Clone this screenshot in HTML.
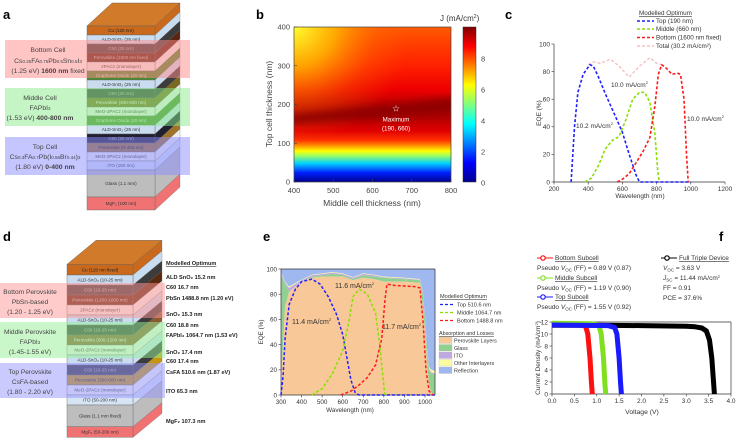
<!DOCTYPE html>
<html><head><meta charset="utf-8"><style>
html,body{margin:0;padding:0;background:#fff}
svg{display:block;font-family:"Liberation Sans",sans-serif}
</style></head><body>
<svg id="fig" width="738" height="439" viewBox="0 0 738 439" xmlns="http://www.w3.org/2000/svg">
<defs>
<linearGradient id="heatV" x1="0" y1="1" x2="0" y2="0">
<stop offset="0" stop-color="#00008f"/><stop offset="0.06" stop-color="#0020ff"/><stop offset="0.12" stop-color="#00d0ff"/>
<stop offset="0.17" stop-color="#a0ff60"/><stop offset="0.2" stop-color="#ffff00"/><stop offset="0.23" stop-color="#ffa000"/>
<stop offset="0.27" stop-color="#ff3000"/><stop offset="0.33" stop-color="#e00000"/><stop offset="0.42" stop-color="#b00000"/>
<stop offset="0.5" stop-color="#c00000"/><stop offset="0.6" stop-color="#ee0000"/><stop offset="0.75" stop-color="#ff2000"/>
<stop offset="0.9" stop-color="#ff4000"/><stop offset="1" stop-color="#ff5a00"/>
</linearGradient>
<radialGradient id="heatTL" cx="0" cy="0" r="0.75">
<stop offset="0" stop-color="#ffff30" stop-opacity="1"/><stop offset="0.35" stop-color="#ffc000" stop-opacity="0.8"/><stop offset="0.7" stop-color="#ff8000" stop-opacity="0.3"/><stop offset="1" stop-color="#ff6000" stop-opacity="0"/>
</radialGradient>
<linearGradient id="jet" x1="0" y1="1" x2="0" y2="0">
<stop offset="0" stop-color="#00008f"/><stop offset="0.125" stop-color="#0000ff"/><stop offset="0.375" stop-color="#00ffff"/>
<stop offset="0.625" stop-color="#ffff00"/><stop offset="0.875" stop-color="#ff0000"/><stop offset="1" stop-color="#800000"/>
</linearGradient>
<filter id="blur"><feGaussianBlur stdDeviation="4"/></filter>
<clipPath id="clipB"><rect x="294" y="27" width="157" height="155"/></clipPath>
</defs>
<g id="g"></g>
</svg>
<script>
// ===== Panel c data =====
const cTopX=[300,320,340,370,410,430,460,500,550,600,640,680,700,1000];
const cTopY=[0,40,65,78,85,84,76,64,50,36,20,5,0,0];
const cMidX=[380,420,460,500,540,580,620,660,700,730,760,790,805,815];
const cMidY=[0,3,12,24,30,33,45,60,65,65,58,35,10,0];
const cBotX=[570,600,640,680,720,760,790,810,830,860,890,920,940,960,975,985];
const cBotY=[0,2,6,14,22,32,55,78,85,82,78,79,78,60,20,0];
const cTotX=[400,430,470,530,580,640,700,760,800,830];
const cTotY=[85,87,86,89,84,76,84,90,86,85];
const cXTicks=[200,400,600,800,1000,1200];
const cYTicks=[0,20,40,60,80,100];
// ===== Panel e data =====
const eTopX=[300,310,320,340,370,400,450,490,530,570,600,620,640,660,680,1050];
const eTopY=[0,15,45,72,84,90,92,88,78,64,48,30,12,2,0,0];
const eMidX=[450,500,550,600,630,650,680,720,760,780,795,805];
const eMidY=[0,5,17,35,58,78,84,80,65,40,15,0];
const eBotX=[590,640,680,720,760,790,805,815,850,950,975,990,1005,1020,1040];
const eBotY=[0,3,8,14,24,45,75,88,87,86,85,60,20,3,0];
const eAreaX=[300,310,320,340,400,450,500,550,600,650,700,750,800,900,975,990,1000,1010,1020,1030,1050];
const ePerov=[5,40,70,82,90,93,94,94,94,91,93,92,90,90,89,70,50,25,8,2,0];
const eGlass=[95,92,88,82,90,94,95,96,95,92,95,94,93,92,91,80,60,35,20,17,16];
const eITO=[96,93,89,85,91,95,96,97,96,93,96,95,93.5,92.5,91.5,81,61,36,21,18,17];
const eOther=[96.5,93.5,89.5,86,91.5,95.5,96.5,97.5,96.5,93.5,96.5,95.5,94,93,92,81.5,61.5,36.5,22,20,19];
const eXTicks=[300,400,500,600,700,800,900,1000];
const eYTicks=[0,20,40,60,80,100];
// ===== Panel f data =====
const fBotV=[0,0.6,0.75,0.8,0.85,0.88,0.9];
const fBotJ=[11.7,11.6,11.3,10,6,2,0];
const fMidV=[0,0.9,1.05,1.1,1.15,1.18,1.2];
const fMidJ=[11.8,11.7,11.4,10,6,2,0];
const fTopV=[0,1.25,1.4,1.45,1.5,1.53,1.55];
const fTopJ=[11.5,11.4,11.1,10,6,2,0];
const fFullV=[0,1,2,3,3.2,3.35,3.45,3.52,3.57,3.6,3.63];
const fFullJ=[11.45,11.45,11.4,11.3,11.2,11,10.5,9,6,3,0];
const fXTicks=[0,0.5,1,1.5,2,2.5,3,3.5,4];
const fYTicks=[0,2,4,6,8,10,12];
// ===== Panel b data =====
const bXTicks=[400,500,600,700,800];
const bYTicks=[0,100,200,300,400];
const bCbTicks=[0,2,4,6,8];
const bMax=[660,190];

const NS='http://www.w3.org/2000/svg';
const G=document.getElementById('g');
function el(tag,attrs,parent,txt){const e=document.createElementNS(NS,tag);for(const k in attrs)e.setAttribute(k,attrs[k]);if(txt!==undefined)e.textContent=txt;(parent||G).appendChild(e);return e;}
function txt(x,y,s,size,opt,parent){opt=opt||{};const t=el('text',Object.assign({x:x,y:y,'font-size':size,fill:opt.fill||'#333','text-anchor':opt.anchor||'start'},opt.extra||{}),parent);
if(Array.isArray(s)){s.forEach(p=>{el('tspan',p.a||{},t,p.t);});}else t.textContent=s;return t;}

[['a',3,19],['b',256,19],['c',505,19],['d',3,241],['e',263,241],['f',719,241]].forEach(p=>{
const t=txt(p[1],p[2],p[0],13,{fill:'#000',extra:{'font-weight':'bold'}});


});

// ===== stacks =====
function drawStack(name,x0,w,dx,dy,layers,fs){
const g=el('g',{});


const top=layers[0];
el('polygon',{points:`${x0},${top.y0} ${x0+dx},${top.y0+dy} ${x0+w+dx},${top.y0+dy} ${x0+w},${top.y0}`,fill:'#d07a2a',stroke:'#555','stroke-width':0.4},g);
layers.forEach(L=>{
el('polygon',{points:`${x0+w},${L.y0} ${x0+w+dx},${L.y0+dy} ${x0+w+dx},${L.y1+dy} ${x0+w},${L.y1}`,fill:L.side||L.c,stroke:'#666','stroke-width':0.3},g);
const r=el('rect',{x:x0,y:L.y0,width:w,height:L.y1-L.y0,fill:L.c,stroke:'#666','stroke-width':0.4},g);


txt(x0+w/2,(L.y0+L.y1)/2+fs*0.35,L.t,fs,{anchor:'middle',fill:L.tc||'#333'},g);
});
return g;}
const cu='#c8691d',ald='#c9dcf0',c60='#3c3c3c',wh='#eeeeee',gr='#4a8a30',ito='#d6e4f4',gl='#bdbdbd',mg='#f07272';
const aB=[26,35,44,53,62,71,80,89,98,107,116,125,134,143,152,161,170,197,210];
const aL=[['Cu (120 nm)',cu,'#222'],['ALD-SnO₂ (25 nm)',ald],['C60 (25 nm)',c60,'#bbb'],['Perovskite (1600 nm fixed)','#5a2410','#bbb'],['2PACz (monolayer)',wh],['Graphene Oxide (20 nm)',gr,'#ddd'],['ALD-SnO₂ (25 nm)',ald],['C60 (20 nm)',c60,'#bbb'],['Perovskite (400-800 nm)','#7a6a20','#eee'],['MeO-2PACz (monolayer)',wh],['Graphene Oxide (20 nm)',gr,'#ddd'],['ALD-SnO₂ (25 nm)',ald],['C60 (20 nm)','#202030','#bbb'],['Perovskite (0-400 nm)','#a0722a','#111'],['MeO-2PACz (monolayer)',wh],['ITO (160 nm)',ito],['Glass (1.1 mm)',gl],['MgF₂ (100 nm)',mg]];
drawStack('stack-a',87,68,25,-23,aL.map((l,i)=>({y0:aB[i],y1:aB[i+1],t:l[0],c:l[1],tc:l[2]})),4.6);
function box(x,y,w,h,c,name){const r=el('rect',{x:x,y:y,width:w,height:h,fill:c});}
box(5,40,185,38,'rgba(255,140,140,0.5)','bottom-cell-box');
box(5,88,185,38,'rgba(140,235,140,0.5)','middle-cell-box');
box(5,137,185,38,'rgba(140,140,255,0.5)','top-cell-box');
const lc='#444';
txt(48,52,'Bottom Cell',6.8,{anchor:'middle',fill:lc});
txt(48,63,[{t:'Cs'},{t:'0.25',a:{'font-size':4.5}},{t:'FA'},{t:'0.75',a:{'font-size':4.5}},{t:'Pb'},{t:'0.5',a:{'font-size':4.5}},{t:'Sn'},{t:'0.5',a:{'font-size':4.5}},{t:'I'},{t:'3',a:{'font-size':4.5}}],6.8,{anchor:'middle',fill:lc});
txt(48,73,[{t:'(1.25 eV) '},{t:'1600 nm',a:{'font-weight':'bold'}},{t:' fixed'}],6.8,{anchor:'middle',fill:lc});
txt(40,100,'Middle Cell',6.8,{anchor:'middle',fill:lc});
txt(40,110,[{t:'FAPbI'},{t:'3',a:{'font-size':4.5}}],6.8,{anchor:'middle',fill:lc});
txt(40,120,[{t:'(1.53 eV) '},{t:'400-800 nm',a:{'font-weight':'bold'}}],6.8,{anchor:'middle',fill:lc});
txt(45,149,'Top Cell',6.8,{anchor:'middle',fill:lc});
txt(45,159,[{t:'Cs'},{t:'0.3',a:{'font-size':4.5}},{t:'FA'},{t:'0.7',a:{'font-size':4.5}},{t:'Pb(I'},{t:'0.56',a:{'font-size':4.5}},{t:'Br'},{t:'0.44',a:{'font-size':4.5}},{t:')'},{t:'3',a:{'font-size':4.5}}],6.8,{anchor:'middle',fill:lc});
txt(45,169,[{t:'(1.80 eV) '},{t:'0-400 nm',a:{'font-weight':'bold'}}],6.8,{anchor:'middle',fill:lc});

const dYs=[118,150,180,210,240,270,300,330,360,390,420,450,480,510,540,605,637].map(v=>225+v/3);
const dL=[['Cu (120 nm fixed)',cu,'#222'],['ALD-SnO₂ (10-25 nm)',ald],['C60 (10-25 nm)',c60,'#bbb'],['Perovskite (1200-1600 nm)','#5a2a10','#ccc'],['2PACz (monolayer)',wh],['ALD-SnO₂ (10-25 nm)',ald],['C60 (10-25 nm)',c60,'#bbb'],['Perovskite (600-1200 nm)','#8a5a30','#eee'],['MeO-2PACz (monolayer)',wh],['ALD-SnO₂ (10-25 nm)',ald],['C60 (10-25 nm)',c60,'#bbb'],['Perovskite (300-600 nm)','#c8960a','#222'],['MeO-2PACz (monolayer)','#f4f4f4'],['ITO (50-200 nm)',ito],['Glass (1.1 mm fixed)',gl],['MgF₂ (50-200 nm)',mg]];
drawStack('stack-d',67,66,29,-24,dL.map((l,i)=>({y0:dYs[i],y1:dYs[i+1],t:l[0],c:l[1],tc:l[2]})),4.6);
box(0,283,165,35,'rgba(255,150,150,0.5)','bottom-perovskite-box');
box(0,322,165,36,'rgba(150,240,150,0.5)','middle-perovskite-box');
box(0,363,165,35,'rgba(150,150,255,0.5)','top-perovskite-box');
txt(30,294,'Bottom Perovskite',6.6,{anchor:'middle',fill:lc});txt(30,304,'PbSn-based',6.6,{anchor:'middle',fill:lc});txt(30,314,'(1.20 - 1.25 eV)',6.6,{anchor:'middle',fill:lc});
txt(30,334,'Middle Perovskite',6.6,{anchor:'middle',fill:lc});txt(30,344,[{t:'FAPbI'},{t:'3',a:{'font-size':4.5}}],6.6,{anchor:'middle',fill:lc});txt(30,354,'(1.45-1.55 eV)',6.6,{anchor:'middle',fill:lc});
txt(30,374,'Top Perovskite',6.6,{anchor:'middle',fill:lc});txt(30,384,'CsFA-based',6.6,{anchor:'middle',fill:lc});txt(30,394,'(1.80 - 2.20 eV)',6.6,{anchor:'middle',fill:lc});
const dR=[['Modelled Optimum',265,1],['ALD SnO₂ 15.2 nm',279],['C60 16.7 nm',289],['PbSn 1488.8 nm (1.20 eV)',300],['SnO₂ 15.3 nm',316],['C60 18.8 nm',327],['FAPbI₃  1064.7 nm (1.53 eV)',337],['SnO₂ 17.4 nm',354],['C60 17.4 nm',363],['CsFA 510.6 nm (1.87 eV)',374],['ITO 65.3 nm',393],['MgF₂ 107.3 nm',423]];
dR.forEach(r=>{const t=txt(166,r[1],r[0],5.6,{fill:'#222',extra:{'font-weight':'bold'}});if(r[2])t.setAttribute('text-decoration','underline');});

// ===== panel b =====
const bx=v=>294+(v-400)*157/400, by=v=>182-v*155/400;
const hb=el('g',{'clip-path':'url(#clipB)'});


el('rect',{x:294,y:27,width:157,height:155,fill:'url(#heatV)'},hb);
el('rect',{x:294,y:27,width:157,height:155,fill:'url(#heatTL)'},hb);
el('polygon',{points:`${bx(380)},${by(150)} ${bx(820)},${by(180)} ${bx(820)},${by(220)} ${bx(380)},${by(172)}`,fill:'#8a0000',opacity:0.9,filter:'url(#blur)'},hb);
el('rect',{x:294,y:27,width:157,height:155,fill:'none',stroke:'#444','stroke-width':0.7});
bXTicks.forEach(v=>{el('line',{x1:bx(v),x2:bx(v),y1:182,y2:179,stroke:'#444','stroke-width':0.6});txt(bx(v),193,String(v),7.5,{anchor:'middle',fill:'#444'});});
bYTicks.forEach(v=>{el('line',{x1:294,x2:297,y1:by(v),y2:by(v),stroke:'#444','stroke-width':0.6});txt(290,by(v)+2.5,String(v),7.5,{anchor:'end',fill:'#444'});});
txt(372,206,'Middle cell thickness (nm)',8.5,{anchor:'middle',fill:'#444'});
txt(0,0,'Top cell thickness (nm)',8.5,{anchor:'middle',fill:'#444',extra:{transform:'translate(272 104) rotate(-90)'}});
const st=txt(bx(bMax[0]),by(bMax[1])+3,'☆',9,{anchor:'middle',fill:'#fff'});
txt(bx(bMax[0]),by(bMax[1])+13,'Maximum',6.2,{anchor:'middle',fill:'#fff'});
txt(bx(bMax[0]),by(bMax[1])+22,'(190, 660)',6.2,{anchor:'middle',fill:'#fff'});
const cb=el('rect',{x:463,y:27,width:13,height:155,fill:'url(#jet)',stroke:'#333','stroke-width':0.5});
const cby=v=>183-v*15.5;
bCbTicks.forEach(v=>{txt(481,cby(v)+2.5,String(v),7.5,{fill:'#444'});});
txt(440,21,[{t:'J (mA/cm'},{t:'2',a:{'font-size':5,dy:-3}},{t:')',a:{dy:3}}],8,{fill:'#333'});

function path(xs,ys,X,Y){return xs.map((v,i)=>(i?'L':'M')+X(v).toFixed(1)+','+Y(ys[i]).toFixed(1)).join(' ');}
function series(name,xs,ys,X,Y,color,w,dash){const p=el('path',{d:path(xs,ys,X,Y),fill:'none',stroke:color,'stroke-width':w,'stroke-dasharray':dash||'none','stroke-linejoin':'round'});return p;}
function axes(x0,x1,y0,y1,xt,yt,X,Y,fmtX,fs,box){
el('line',{x1:x0,x2:x1,y1:y0,y2:y0,stroke:'#333','stroke-width':0.7});
el('line',{x1:x0,x2:x0,y1:y0,y2:y1,stroke:'#333','stroke-width':0.7});
if(box){el('line',{x1:x0,x2:x1,y1:y1,y2:y1,stroke:'#333','stroke-width':0.7});el('line',{x1:x1,x2:x1,y1:y0,y2:y1,stroke:'#333','stroke-width':0.7});}
xt.forEach(v=>{el('line',{x1:X(v),x2:X(v),y1:y0,y2:y0+2.5,stroke:'#333','stroke-width':0.6});txt(X(v),y0+9,fmtX(v),fs,{anchor:'middle'});});
yt.forEach(v=>{el('line',{x1:x0,x2:x0-2.5,y1:Y(v),y2:Y(v),stroke:'#333','stroke-width':0.6});txt(x0-4,Y(v)+2.3,String(v),fs,{anchor:'end'});});
}
// ===== panel c =====
const cx=v=>554+(v-200)*171/1000, cy=v=>182-v*1.38;
axes(554,725,182,44,cXTicks,cYTicks,cx,cy,String,6.5,false);
series('total-curve',cTotX,cTotY,cx,cy,'#f7c0c0',1.4,'3,2');
series('top-curve',cTopX,cTopY,cx,cy,'#2020ff',1.6,'3,2');
series('middle-curve',cMidX,cMidY,cx,cy,'#88e000',1.6,'3,2');
series('bottom-curve',cBotX,cBotY,cx,cy,'#ff1a1a',1.6,'3,2');
txt(640,198,'Wavelength (nm)',6.5,{anchor:'middle'});
txt(0,0,'EQE (%)',6.5,{anchor:'middle',extra:{transform:'translate(541 113) rotate(-90)'}});
txt(611,87,[{t:'10.0 mA/cm'},{t:'2',a:{'font-size':4,dy:-3}}],6.5,{});
txt(576,128,[{t:'10.2 mA/cm'},{t:'2',a:{'font-size':4,dy:-3}}],6.5,{});
txt(687,121,[{t:'10.0 mA/cm'},{t:'2',a:{'font-size':4,dy:-3}}],6.5,{});
txt(639,15,'Modelled Optimum',6.3,{extra:{'text-decoration':'underline'}});
[['Top (190 nm)','#2020ff',23],['Middle (660 nm)','#88e000',31],['Bottom (1600 nm fixed)','#ff1a1a',39.5],['Total (30.2 mA/cm²)','#f7c0c0',48]].forEach(l=>{
const ln=el('line',{x1:637,x2:654,y1:l[2]-2,y2:l[2]-2,stroke:l[1],'stroke-width':1.5,'stroke-dasharray':'3,2'});
txt(656,l[2],l[0],6.3,{});});

// ===== panel e =====
const ex=v=>281+(v-300)*144/700, ey=v=>395-v*1.26;
function area(name,xs,lo,hi,color){const up=xs.map((v,i)=>ex(v).toFixed(1)+','+ey(hi[i]).toFixed(1));const dn=xs.map((v,i)=>ex(v).toFixed(1)+','+ey(lo?lo[i]:0).toFixed(1)).reverse();const p=el('polygon',{points:up.concat(dn).join(' '),fill:color});}
const hundred=eAreaX.map(()=>100);
area('reflection-area',eAreaX,eOther,hundred,'#a0b8f0');
area('other-area',eAreaX,eITO,eOther,'#fbfba0');
area('ito-area',eAreaX,eGlass,eITO,'#c0a8e0');
area('glass-area',eAreaX,ePerov,eGlass,'#90d090');
area('perovskite-area',eAreaX,null,ePerov,'#f8c898');
axes(281,435,395,269,eXTicks,eYTicks,ex,ey,String,6.3,true);
series('e-top-curve',eTopX,eTopY,ex,ey,'#2020ff',1.5,'3,2');
series('e-middle-curve',eMidX,eMidY,ex,ey,'#88e000',1.5,'3,2');
series('e-bottom-curve',eBotX,eBotY,ex,ey,'#ff1a1a',1.5,'3,2');
txt(350,412,'Wavelength (nm)',6.3,{anchor:'middle'});
txt(0,0,'EQE (%)',6.3,{anchor:'middle',extra:{transform:'translate(263 332) rotate(-90)'}});
txt(292,324,[{t:'11.4 mA/cm'},{t:'2',a:{'font-size':4,dy:-3}}],7,{});
txt(335,288,[{t:'11.6 mA/cm'},{t:'2',a:{'font-size':4,dy:-3}}],7,{});
txt(382,329,[{t:'11.7 mA/cm'},{t:'2',a:{'font-size':4,dy:-3}}],7,{});
txt(440,298,'Modelled Optimum',5.6,{extra:{'text-decoration':'underline'}});
[['Top 510.6 nm','#2020ff',306.5],['Middle 1064.7 nm','#88e000',314.5],['Bottom 1488.8 nm','#ff1a1a',322.5]].forEach(l=>{
el('line',{x1:440,x2:455,y1:l[2]-2,y2:l[2]-2,stroke:l[1],'stroke-width':1.3,'stroke-dasharray':'3,2'});txt(457,l[2],l[0],5.6,{});});
txt(439,335,'Absorption and Losses',5.4,{extra:{'text-decoration':'underline'}});
[['Perovskite Layers','#f8c898',337],['Glass','#90d090',344.5],['ITO','#c0a8e0',352],['Other Interlayers','#fbfba0',359.5],['Reflection','#a0b8f0',367]].forEach(l=>{
const r=el('rect',{x:439,y:l[2],width:13,height:6.5,fill:l[1],stroke:'#bbb','stroke-width':0.3});
txt(454,l[2]+5.5,l[0],5.4,{});});

// ===== panel f =====
const fx=v=>552+v*44.75, fy=v=>394-v*6;
axes(552,731,394,322,fXTicks,fYTicks,fx,fy,v=>v.toFixed(1),6.5,true);
series('full-device-jv',fFullV,fFullJ,fx,fy,'#000',5);
series('bottom-subcell-jv',fBotV,fBotJ,fx,fy,'#ff1010',5);
series('middle-subcell-jv',fMidV,fMidJ,fx,fy,'#80e020',5);
series('top-subcell-jv',fTopV,fTopJ,fx,fy,'#1a1aff',5);
txt(642,414,'Voltage (V)',6.8,{anchor:'middle'});
txt(0,0,[{t:'Current Density (mA/cm'},{t:'2',a:{'font-size':4,dy:-2}},{t:')',a:{dy:2}}],6.5,{anchor:'middle',extra:{transform:'translate(540 358) rotate(-90)'}});
function flg(x,y,c,label){el('line',{x1:x,x2:x+16,y1:y-2,y2:y-2,stroke:c,'stroke-width':1});el('circle',{cx:x+6,cy:y-2,r:2.2,fill:'#fff',stroke:c,'stroke-width':1.2});txt(x+18,y,label,6.5,{extra:{'text-decoration':'underline'}});}
flg(537,260,'#ff1010','Bottom Subcell');
txt(537,270,[{t:'Pseudo '},{t:'V',a:{'font-style':'italic'}},{t:'OC',a:{'font-size':4.5,dy:1.5}},{t:' (FF) = 0.89 V (0.87)',a:{dy:-1.5}}],6.5,{});
flg(537,280,'#80e020','Middle Subcell');
txt(537,290,[{t:'Pseudo '},{t:'V',a:{'font-style':'italic'}},{t:'OC',a:{'font-size':4.5,dy:1.5}},{t:' (FF) = 1.19 V (0.90)',a:{dy:-1.5}}],6.5,{});
flg(537,299,'#1a1aff','Top Subcell');
txt(537,309,[{t:'Pseudo '},{t:'V',a:{'font-style':'italic'}},{t:'OC',a:{'font-size':4.5,dy:1.5}},{t:' (FF) = 1.55 V (0.92)',a:{dy:-1.5}}],6.5,{});
flg(661,260,'#000','Full Triple Device');
txt(663,270,[{t:'V',a:{'font-style':'italic'}},{t:'OC',a:{'font-size':4.5,dy:1.5}},{t:' = 3.63 V',a:{dy:-1.5}}],6.5,{});
txt(663,280,[{t:'J',a:{'font-style':'italic'}},{t:'SC',a:{'font-size':4.5,dy:1.5}},{t:' = 11.44 mA/cm',a:{dy:-1.5}},{t:'2',a:{'font-size':4,dy:-2}}],6.5,{});
txt(663,290,'FF = 0.91',6.5,{});
txt(663,300,'PCE = 37.6%',6.5,{});
</script>
</body></html>
